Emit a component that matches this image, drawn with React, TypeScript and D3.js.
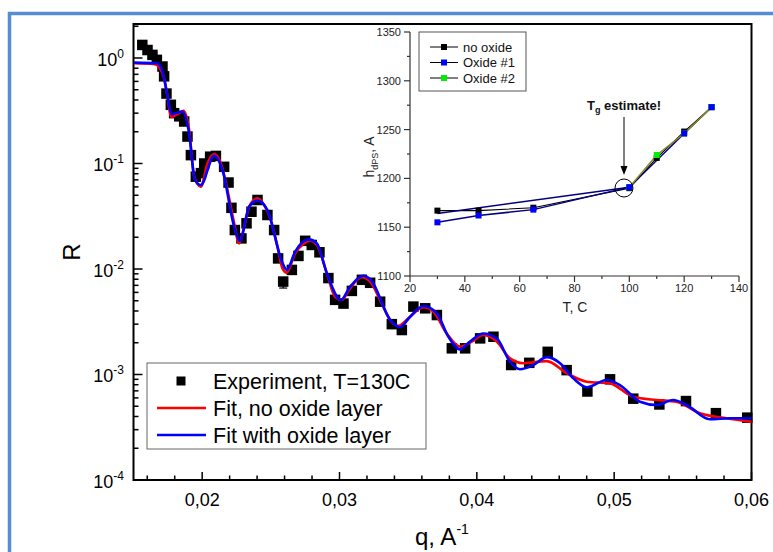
import React from 'react';
import * as d3 from 'd3';

// ---------- Main chart data ----------
const qExp = [0.01564, 0.01602, 0.01638, 0.0167, 0.01711, 0.01723, 0.0174, 0.01772, 0.01796, 0.01833, 0.01869, 0.01893, 0.01918, 0.01954, 0.01991, 0.02015, 0.02058, 0.021, 0.0216, 0.02192, 0.02213, 0.02238, 0.02286, 0.02323, 0.02359, 0.02403, 0.02475, 0.02524, 0.02553, 0.0259, 0.02653, 0.02701, 0.0275, 0.02798, 0.02854, 0.02919, 0.02968, 0.03029, 0.0309, 0.03163, 0.03223, 0.03296, 0.03381, 0.03454, 0.03538, 0.03624, 0.03709, 0.03818, 0.03915, 0.04024, 0.04121, 0.0425, 0.04382, 0.04516, 0.04654, 0.04805, 0.0497, 0.05139, 0.05329, 0.05523, 0.05741, 0.05969];
const rExp = [1.33, 1.19, 1.07, 0.96, 0.83, 0.67, 0.46, 0.36, 0.3, 0.28, 0.25, 0.18, 0.12, 0.075, 0.081, 0.1, 0.116, 0.118, 0.093, 0.066, 0.038, 0.0234, 0.0195, 0.0271, 0.0349, 0.0451, 0.0325, 0.0234, 0.0126, 0.0076, 0.0098, 0.0133, 0.0185, 0.0169, 0.0144, 0.0082, 0.0051, 0.0047, 0.0062, 0.0079, 0.0074, 0.0049, 0.003, 0.00264, 0.0044, 0.00424, 0.00366, 0.00177, 0.00177, 0.0022, 0.00228, 0.00123, 0.00129, 0.00164, 0.0011, 0.00069, 0.0009, 0.00059, 0.00052, 0.00056, 0.00043, 0.00039];

// error bars (q, low R, high R)
const errQ = [0.01564, 0.0259];
const errLo = [1.33, 0.0066];
const errHi = [1.45, 0.0076];

const qFitNoOxide = [0.01505, 0.01651, 0.01687, 0.01723, 0.01748, 0.01772, 0.0182, 0.01864, 0.01905, 0.01942, 0.0199, 0.02039, 0.02087, 0.02136, 0.02184, 0.02233, 0.02269, 0.02306, 0.02342, 0.02403, 0.02451, 0.025, 0.02548, 0.02584, 0.02616, 0.02677, 0.02737, 0.02786, 0.02835, 0.02908, 0.02968, 0.03017, 0.03077, 0.03162, 0.03223, 0.03296, 0.03369, 0.03429, 0.03502, 0.03611, 0.03684, 0.03781, 0.03878, 0.03963, 0.04047, 0.04145, 0.04242, 0.04339, 0.04509, 0.04654, 0.048, 0.04969, 0.05139, 0.05309, 0.05454, 0.05624, 0.05819, 0.06];
const rFitNoOxide = [0.891, 0.877, 0.817, 0.641, 0.43, 0.277, 0.294, 0.315, 0.208, 0.075, 0.0603, 0.1005, 0.123, 0.1005, 0.0561, 0.0271, 0.0175, 0.0252, 0.039, 0.0468, 0.0405, 0.0291, 0.0163, 0.0102, 0.00923, 0.0141, 0.0173, 0.0185, 0.0169, 0.0091, 0.00546, 0.00508, 0.00656, 0.00834, 0.00759, 0.00508, 0.00329, 0.00288, 0.00341, 0.00434, 0.00394, 0.00245, 0.00184, 0.00205, 0.00237, 0.00205, 0.00142, 0.00128, 0.00134, 0.00103, 0.000855, 0.000824, 0.000615, 0.000573, 0.000552, 0.000429, 0.000385, 0.000357];

const qFitOxide = [0.01505, 0.01675, 0.01718, 0.01748, 0.01778, 0.01856, 0.01905, 0.01947, 0.0199, 0.02087, 0.02148, 0.02233, 0.02274, 0.02342, 0.02403, 0.02475, 0.02584, 0.02616, 0.02677, 0.02774, 0.02835, 0.02908, 0.0301, 0.03077, 0.03174, 0.03229, 0.03369, 0.03441, 0.03514, 0.03611, 0.03709, 0.03793, 0.03878, 0.0395, 0.04047, 0.04145, 0.04242, 0.04314, 0.04411, 0.04509, 0.04606, 0.04703, 0.048, 0.04945, 0.05042, 0.05188, 0.05309, 0.0543, 0.05527, 0.05697, 0.05843, 0.06];
const rFitOxide = [0.904, 0.891, 0.69, 0.43, 0.294, 0.31, 0.193, 0.0698, 0.0625, 0.118, 0.0867, 0.0252, 0.0185, 0.039, 0.0445, 0.0362, 0.0115, 0.0098, 0.0146, 0.0191, 0.0175, 0.0091, 0.00508, 0.00679, 0.00863, 0.00787, 0.00329, 0.0028, 0.00353, 0.00446, 0.0038, 0.00228, 0.00173, 0.00205, 0.00245, 0.0022, 0.00132, 0.00112, 0.00123, 0.00146, 0.00128, 0.00092, 0.000757, 0.000887, 0.000794, 0.000552, 0.000514, 0.000573, 0.000514, 0.000376, 0.000385, 0.000385];

const xTicks = [0.02, 0.03, 0.04, 0.05, 0.06];
const xTickLabels = ['0,02', '0,03', '0,04', '0,05', '0,06'];
const yDecades = [-4, -3, -2, -1, 0];

const mainLegend = ['Experiment, T=130C', 'Fit, no oxide layer', 'Fit with oxide layer'];

// ---------- Inset data ----------
const tNoOxide = [30, 45, 65, 100, 110, 120, 130];
const hNoOxide = [1167, 1167, 1170, 1190, 1221, 1248, 1273];
const tOxide1 = [30, 45, 65, 100, 120, 130];
const hOxide1 = [1155, 1162, 1168, 1191, 1246, 1273];
const tOxide1Return = [30, 100];
const hOxide1Return = [1164, 1191];
const tOxide2 = [100, 110, 120, 130];
const hOxide2 = [1191, 1224, 1246, 1273];

const insetXTicks = [20, 40, 60, 80, 100, 120, 140];
const insetYTicks = [1100, 1150, 1200, 1250, 1300, 1350];
const insetLegend = ['no oxide', 'Oxide #1', 'Oxide #2'];

const FONT = 'Liberation Sans, Arial, sans-serif';

export default function App() {
  // main scales
  const x = d3.scaleLinear().domain([0.015, 0.06]).range([133.5, 751.5]);
  const y = d3.scaleLog().domain([1e-4, 2.1]).range([480, 24]);
  const left = 133.5, right = 751.5, top = 24, bottom = 480;

  const line = d3
    .line<[number, number]>()
    .x((d) => x(d[0]))
    .y((d) => y(d[1]))
    .curve(d3.curveMonotoneX);

  const redPts = qFitNoOxide.map((q, i) => [q, rFitNoOxide[i]] as [number, number]);
  const bluePts = qFitOxide.map((q, i) => [q, rFitOxide[i]] as [number, number]);

  const xMinor = d3.range(0.016, 0.0601, 0.002).filter((v) => Math.abs(v * 100 - Math.round(v * 100)) > 1e-6);
  const yMinor: number[] = [];
  yDecades.forEach((d) => {
    for (let k = 2; k <= 9; k++) {
      const v = k * Math.pow(10, d);
      if (v < 2.1) yMinor.push(v);
    }
  });

  // inset scales
  const ix = d3.scaleLinear().domain([20, 140]).range([410, 739]);
  const iy = d3.scaleLinear().domain([1100, 1350]).range([276, 32]);
  const iline = d3
    .line<[number, number]>()
    .x((d) => ix(d[0]))
    .y((d) => iy(d[1]));
  const zip = (a: number[], b: number[]) => a.map((v, i) => [v, b[i]] as [number, number]);

  const insetXMinor = d3.range(30, 140, 20);
  const insetYMinor = d3.range(1125, 1350, 50);

  const sq = (cx: number, cy: number, s: number, fill: string, key: string) => (
    <rect key={key} x={cx - s / 2} y={cy - s / 2} width={s} height={s} fill={fill} />
  );

  return (
    <svg
      width={773}
      height={552}
      style={{ position: 'absolute', left: 0, top: 0, background: '#fff' }}
      fontFamily={FONT}
    >
      <rect x={0} y={0} width={773} height={552} fill="#fff" />
      {/* page frame */}
      <path d="M9.5,560 L9.5,13.5 L790,13.5" fill="none" stroke="#548dd4" strokeWidth={3.5} />

      {/* main plot box */}
      <rect x={left} y={top} width={right - left} height={bottom - top} fill="none" stroke="#000" strokeWidth={2} />

      {/* x ticks */}
      {xTicks.map((t, i) => (
        <g key={'xt' + i}>
          <line x1={x(t)} x2={x(t)} y1={bottom} y2={bottom - 8} stroke="#000" strokeWidth={1.5} />
          <text x={x(t)} y={506} fontSize={18} textAnchor="middle">
            {xTickLabels[i]}
          </text>
        </g>
      ))}
      {xMinor.map((t, i) => (
        <line key={'xm' + i} x1={x(t)} x2={x(t)} y1={bottom} y2={bottom - 4.5} stroke="#000" strokeWidth={1.5} />
      ))}

      {/* y ticks */}
      {yDecades.map((d) => {
        const v = Math.pow(10, d);
        return (
          <g key={'yt' + d}>
            <line x1={left} x2={left + 9} y1={y(v)} y2={y(v)} stroke="#000" strokeWidth={1.5} />
            <text x={124} y={y(v) + 8} fontSize={18} textAnchor="end">
              10
              <tspan dy={-8} fontSize={12}>
                {d === 0 ? '0' : String(d)}
              </tspan>
            </text>
          </g>
        );
      })}
      {yMinor.map((v, i) => (
        <line key={'ym' + i} x1={left} x2={left + 5} y1={y(v)} y2={y(v)} stroke="#000" strokeWidth={1.5} />
      ))}

      {/* axis titles */}
      <text transform="translate(80,252) rotate(-90)" fontSize={24} textAnchor="middle">
        R
      </text>
      <text x={415} y={545} fontSize={24}>
        q, A
        <tspan dy={-11} fontSize={14}>
          -1
        </tspan>
      </text>

      {/* error bars */}
      {errQ.map((q, i) => (
        <g key={'eb' + i} stroke="#000" strokeWidth={1.2}>
          <line x1={x(q)} x2={x(q)} y1={y(errLo[i])} y2={y(errHi[i])} />
          <line x1={x(q) - 4} x2={x(q) + 4} y1={y(q === errQ[0] ? errHi[i] : errLo[i])} y2={y(q === errQ[0] ? errHi[i] : errLo[i])} />
        </g>
      ))}

      {/* experimental squares */}
      {qExp.map((q, i) => sq(x(q), y(rExp[i]), 10.5, '#000', 'e' + i))}

      {/* fits */}
      <path d={line(redPts) || ''} fill="none" stroke="#ff0000" strokeWidth={2.6} strokeLinejoin="round" />
      <path d={line(bluePts) || ''} fill="none" stroke="#0000ff" strokeWidth={2.6} strokeLinejoin="round" />

      {/* main legend */}
      <rect x={147} y={363} width={279} height={86} fill="#fff" stroke="#666" strokeWidth={1} />
      {sq(181, 381, 9, '#000', 'lg0')}
      <line x1={157} x2={206} y1={408} y2={408} stroke="#ff0000" strokeWidth={2.6} />
      <line x1={157} x2={206} y1={435} y2={435} stroke="#0000ff" strokeWidth={2.6} />
      {mainLegend.map((s, i) => (
        <text key={'ml' + i} x={213} y={381 + i * 27 + 7.5} fontSize={21.5}>
          {s}
        </text>
      ))}

      {/* ---------- Inset ---------- */}
      <line x1={410} x2={410} y1={32} y2={276} stroke="#333" strokeWidth={1.2} />
      <line x1={410} x2={739} y1={276} y2={276} stroke="#333" strokeWidth={1.2} />
      {insetYTicks.map((t) => (
        <g key={'iyt' + t}>
          <line x1={404} x2={410} y1={iy(t)} y2={iy(t)} stroke="#333" strokeWidth={1.2} />
          <text x={401} y={iy(t) + 4} fontSize={11} textAnchor="end" fill="#222">
            {t}
          </text>
        </g>
      ))}
      {insetYMinor.map((t) => (
        <line key={'iym' + t} x1={407} x2={410} y1={iy(t)} y2={iy(t)} stroke="#333" strokeWidth={1.2} />
      ))}
      {insetXTicks.map((t) => (
        <g key={'ixt' + t}>
          <line x1={ix(t)} x2={ix(t)} y1={276} y2={282} stroke="#333" strokeWidth={1.2} />
          <text x={ix(t)} y={292} fontSize={11} textAnchor="middle" fill="#222">
            {t}
          </text>
        </g>
      ))}
      {insetXMinor.map((t) => (
        <line key={'ixm' + t} x1={ix(t)} x2={ix(t)} y1={276} y2={279} stroke="#333" strokeWidth={1.2} />
      ))}
      <text x={575} y={312} fontSize={14} textAnchor="middle" fill="#222">
        T, C
      </text>
      <text transform="translate(374,157) rotate(-90)" fontSize={14} textAnchor="middle" fill="#222">
        h
        <tspan dy={4} fontSize={9}>
          dPS
        </tspan>
        <tspan dy={-4}>, A</tspan>
      </text>

      {/* inset lines */}
      <path d={iline(zip(tNoOxide, hNoOxide)) || ''} fill="none" stroke="#000" strokeWidth={1.1} />
      <path d={iline(zip(tOxide1, hOxide1)) || ''} fill="none" stroke="#000080" strokeWidth={1.5} />
      <path d={iline(zip(tOxide1Return, hOxide1Return)) || ''} fill="none" stroke="#000080" strokeWidth={1.5} />
      <path d={iline(zip(tOxide2, hOxide2)) || ''} fill="none" stroke="#8a8a22" strokeWidth={1.5} />
      {tNoOxide.map((t, i) => sq(ix(t), iy(hNoOxide[i]), 6, '#000', 'in' + i))}
      {tOxide2.map((t, i) => sq(ix(t), iy(hOxide2[i]), 6, '#00ee00', 'ig' + i))}
      {tOxide1.map((t, i) => sq(ix(t), iy(hOxide1[i]), 6, '#0000ff', 'ib' + i))}

      {/* Tg annotation */}
      <text x={587} y={110} fontSize={13} fontWeight="bold" fill="#111">
        T
        <tspan dy={3} fontSize={9}>
          g
        </tspan>
        <tspan dy={-3}> estimate!</tspan>
      </text>
      <line x1={624} x2={624} y1={117} y2={168} stroke="#000" strokeWidth={1} />
      <polygon points="620.5,166 627.5,166 624,175" fill="#000" />
      <circle cx={624} cy={188} r={9} fill="none" stroke="#000" strokeWidth={1} />

      {/* inset legend */}
      <rect x={419} y={32} width={107} height={59} fill="#fff" stroke="#555" strokeWidth={1} />
      {insetLegend.map((s, i) => {
        const cy = 47 + i * 15.5;
        const c = ['#000', '#0000ff', '#00ee00'][i];
        return (
          <g key={'il' + i}>
            <line x1={430} x2={458} y1={cy} y2={cy} stroke="#000" strokeWidth={1} />
            {sq(444, cy, 6, c, 'ils' + i)}
            <text x={463} y={cy + 4.5} fontSize={13} fill="#111">
              {s}
            </text>
          </g>
        );
      })}
    </svg>
  );
}
